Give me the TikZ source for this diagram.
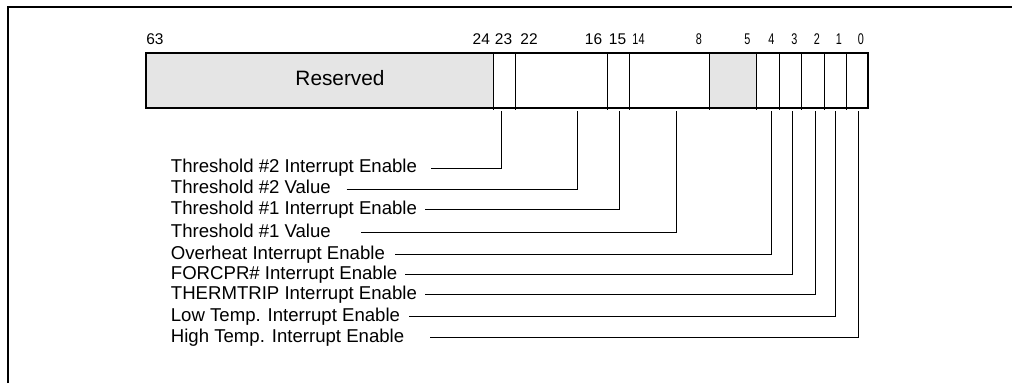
\documentclass[tikz,border=0pt]{standalone}
\usepackage{fontspec}
\setmainfont{Liberation Sans}
\usepackage{graphicx}
\begin{document}
\begin{tikzpicture}[x=1pt,y=-1pt,
  bitnum/.style={anchor=base,inner sep=0pt,font=\fontsize{15.5}{16}\selectfont},
  lbl/.style={anchor=base west,inner sep=0pt,font=\fontsize{18.6}{20}\selectfont},
  leader/.style={line width=1pt},
  divider/.style={line width=0.9pt}]
\useasboundingbox (0,0) rectangle (1012,383);
% outer partial frame
\draw[line width=1.9pt] (8.3,383) -- (8.3,7.3) -- (1012,7.3);
% reserved fills
\fill[black!10] (145,52) rectangle (493.3,107);
\fill[black!10] (709.3,52) rectangle (756,107);
% dividers
\foreach \x in {493.3,515.7,607.7,629,709.3,756,779.3,801,824,846.7}
  \draw[divider] (\x,52) -- (\x,110);
% register outline
\node[draw,line width=2.2pt,minimum width=721.5pt,minimum height=55pt,inner sep=0pt,anchor=north west] (reg) at (145,52) {};
\node[anchor=base,inner sep=0pt,font=\fontsize{20.8}{22}\selectfont] (res) at (340,85) {Reserved};
% bit numbers
\node[bitnum] (b63) at (155,44) {63};
\node[bitnum] (b24) at (481.3,44) {24};
\node[bitnum] (b23) at (503.5,44) {23};
\node[bitnum] (b22) at (529,44) {22};
\node[bitnum] (b16) at (593.5,44) {16};
\node[bitnum] (b15) at (617.5,44) {15};
\node[bitnum] (b14) at (638.5,44) {\scalebox{0.7}[1]{14}};
\node[bitnum] (b8) at (699,44) {\scalebox{0.7}[1]{8}};
\node[bitnum] (b5) at (747.5,44) {\scalebox{0.7}[1]{5}};
\node[bitnum] (b4) at (771.5,44) {\scalebox{0.7}[1]{4}};
\node[bitnum] (b3) at (794.5,44) {\scalebox{0.7}[1]{3}};
\node[bitnum] (b2) at (817,44) {\scalebox{0.7}[1]{2}};
\node[bitnum] (b1) at (839,44) {\scalebox{0.7}[1]{1}};
\node[bitnum] (b0) at (861,44) {\scalebox{0.7}[1]{0}};
% labels
\node[lbl] (l1) at (170.7,172.3) {Threshold \#2 Interrupt Enable};
\node[lbl] (l2) at (170.7,193.8) {Threshold \#2 Value};
\node[lbl] (l3) at (170.7,214.3) {Threshold \#1 Interrupt Enable};
\node[lbl] (l4) at (170.7,237.0) {Threshold \#1 Value};
\node[lbl] (l5) at (170.7,259.3) {Overheat Interrupt Enable};
\node[lbl] (l6) at (170.7,279.5) {FORCPR\# Interrupt Enable};
\node[lbl] (l7) at (170.7,299.3) {THERMTRIP Interrupt Enable};
\node[lbl] (l8) at (170.7,321.0) {Low Temp. Interrupt Enable};
\node[lbl] (l9) at (170.7,342.0) {High Temp. Interrupt Enable};
% leader start points
\coordinate (s1) at (431,168.3);
\coordinate (s2) at (346.7,189.3);
\coordinate (s3) at (425,209.3);
\coordinate (s4) at (361,232.5);
\coordinate (s5) at (395,254.8);
\coordinate (s6) at (405,274.5);
\coordinate (s7) at (425.3,294.3);
\coordinate (s8) at (409,316.3);
\coordinate (s9) at (430,337.5);
% tap points below register
\coordinate (t1) at (501.7,111);
\coordinate (t2) at (577.3,111);
\coordinate (t3) at (619.2,111);
\coordinate (t4) at (676.5,111);
\coordinate (t5) at (771.5,111);
\coordinate (t6) at (792.3,111);
\coordinate (t7) at (815.2,111);
\coordinate (t8) at (835.6,111);
\coordinate (t9) at (858.5,111);
\foreach \i in {1,...,9}
  \draw[leader] (s\i) -| (t\i);
\end{tikzpicture}
\end{document}
